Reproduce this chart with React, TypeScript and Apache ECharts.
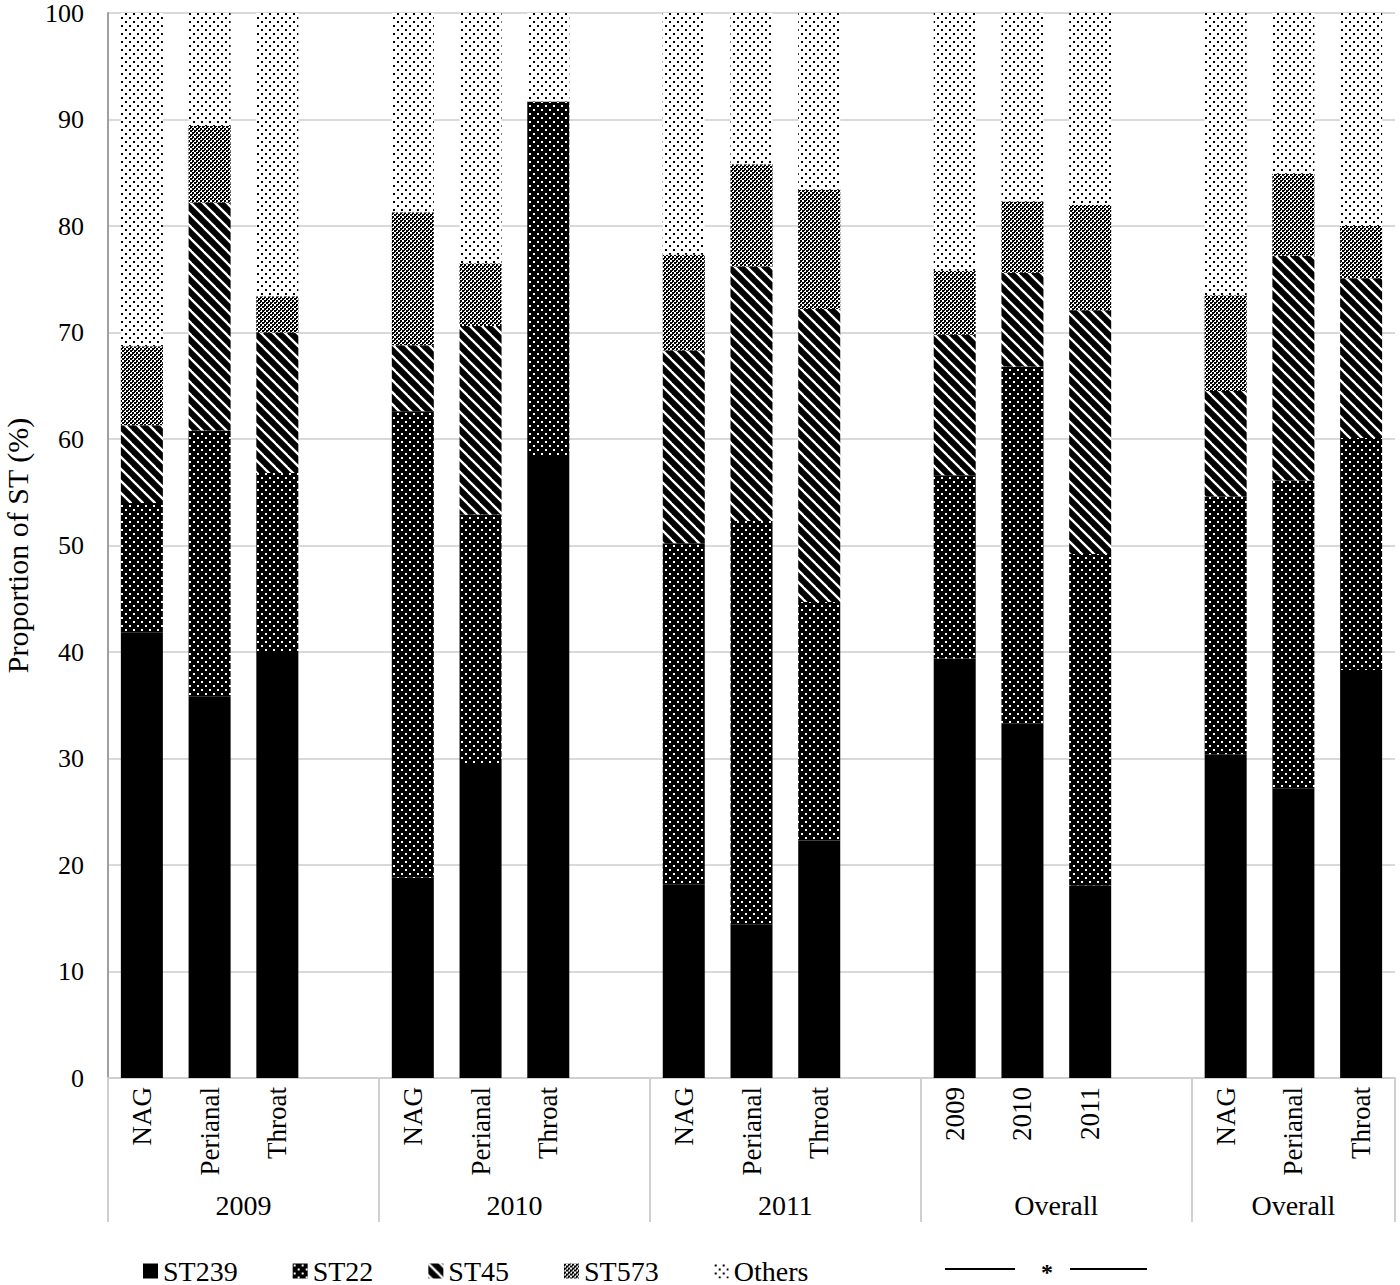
import React, { useEffect, useRef } from 'react';
import * as echarts from 'echarts';

const FONT = '"Liberation Serif", "Times New Roman", serif';

// x-axis slots (empty string = gap slot between groups)
const categories = ['NAG', 'Perianal', 'Throat', '', 'NAG', 'Perianal', 'Throat', '', 'NAG', 'Perianal', 'Throat', '', '2009', '2010', '2011', '', 'NAG', 'Perianal', 'Throat'];
const groups = ['2009', '2010', '2011', 'Overall', 'Overall'];
const groupSizes = [4, 4, 4, 4, 3];
const seriesNames = ['ST239', 'ST22', 'ST45', 'ST573', 'Others'];

const ST239 = [41.8, 35.8, 40.0, null, 18.8, 29.4, 58.4, null, 18.2, 14.4, 22.3, null, 39.4, 33.3, 18.1, null, 30.4, 27.2, 38.3];
const ST22 = [12.2, 25.0, 16.8, null, 43.8, 23.5, 33.3, null, 32.0, 37.9, 22.4, null, 17.2, 33.5, 31.1, null, 24.2, 28.9, 21.8];
const ST45 = [7.3, 21.4, 13.2, null, 6.2, 17.7, 0, null, 18.1, 23.9, 27.5, null, 13.2, 8.8, 22.9, null, 9.9, 21.1, 15.0];
const ST573 = [7.4, 7.2, 3.4, null, 12.5, 5.9, 0, null, 9.0, 9.6, 11.2, null, 6.0, 6.7, 9.9, null, 9.0, 7.7, 4.9];
const Others = [31.3, 10.6, 26.6, null, 18.7, 23.5, 8.3, null, 22.7, 14.2, 16.6, null, 24.2, 17.7, 18.0, null, 26.5, 15.1, 20.0];

function makeTile(size: number, draw: (ctx: CanvasRenderingContext2D, s: number) => void) {
  const c = document.createElement('canvas');
  c.width = size;
  c.height = size;
  const ctx = c.getContext('2d') as CanvasRenderingContext2D;
  draw(ctx, size);
  return { image: c.toDataURL(), repeat: 'repeat', imageWidth: size, imageHeight: size };
}

function buildPatterns() {
  const st22 = makeTile(8, (ctx, s) => {
    ctx.fillStyle = '#000';
    ctx.fillRect(0, 0, s, s);
    ctx.fillStyle = '#fff';
    ctx.fillRect(1, 1, 2, 2);
    ctx.fillRect(5, 5, 2, 2);
  });
  const st45 = makeTile(12, (ctx, s) => {
    ctx.fillStyle = '#000';
    ctx.fillRect(0, 0, s, s);
    ctx.strokeStyle = '#fff';
    ctx.lineWidth = 2.3;
    for (const c of [-s, 0, s]) {
      ctx.beginPath();
      ctx.moveTo(-2, -2 + c);
      ctx.lineTo(s + 2, s + 2 + c);
      ctx.stroke();
    }
  });
  const st573 = makeTile(8, (ctx, s) => {
    ctx.fillStyle = '#fff';
    ctx.fillRect(0, 0, s, s);
    ctx.fillStyle = '#000';
    for (let y = 0; y < s; y += 2) {
      for (let x = 0; x < s; x += 2) {
        if (((x >> 1) + (y >> 1)) % 2 === 0) ctx.fillRect(x, y, 2, 2);
        else if (!(x === 2 && y === 0) && !(x === 6 && y === 4)) ctx.fillRect(x, y, 1, 1);
      }
    }
  });
  const others = makeTile(8, (ctx, s) => {
    ctx.fillStyle = '#fff';
    ctx.fillRect(0, 0, s, s);
    ctx.fillStyle = '#000';
    ctx.fillRect(1, 1, 2, 2);
    ctx.fillRect(5, 5, 2, 2);
  });
  return ['#000000', st22, st45, st573, others];
}

export default function App() {
  const ref = useRef<HTMLDivElement>(null);

  useEffect(() => {
    document.body.style.margin = '0';
    if (!ref.current) return;
    const chart = echarts.init(ref.current, null, { renderer: 'svg' });
    const patterns = buildPatterns();
    const catIds = categories.map((c, i) => `${c}#${i}`);
    const starts: number[] = [];
    let acc = 0;
    groupSizes.forEach((n) => {
      starts.push(acc);
      acc += n;
    });
    const values = [ST239, ST22, ST45, ST573, Others];

    const option: any = {
      animation: false,
      grid: { left: 108, right: 5, top: 13, bottom: 207, containLabel: false, outerBoundsMode: 'none' },
      legend: {
        data: seriesNames,
        top: 1252,
        left: 138,
        itemGap: 55,
        itemWidth: 15,
        itemHeight: 15,
        icon: 'rect',
        textStyle: { fontFamily: FONT, fontSize: 28, color: '#000', lineHeight: 28 },
      },
      xAxis: {
        type: 'category',
        data: catIds,
        axisLine: { show: true, lineStyle: { color: '#d0d0d0', width: 2 } },
        axisTick: {
          show: true,
          interval: (i: number) => starts.includes(i),
          length: 144,
          lineStyle: { color: '#d0d0d0', width: 2 },
        },
        axisLabel: {
          interval: 0,
          rotate: 90,
          formatter: (_v: string, i: number) => categories[i],
          fontFamily: FONT,
          fontSize: 27,
          color: '#000',
          margin: 9,
        },
      },
      yAxis: {
        type: 'value',
        min: 0,
        max: 100,
        interval: 10,
        name: 'Proportion of ST (%)',
        nameLocation: 'middle',
        nameGap: 76,
        nameTextStyle: { fontFamily: FONT, fontSize: 30, color: '#000' },
        axisLine: { show: true, lineStyle: { color: '#a0a0a0', width: 2 } },
        axisTick: { show: false },
        axisLabel: { fontFamily: FONT, fontSize: 26, color: '#000', margin: 24 },
        splitLine: { show: true, lineStyle: { color: '#d9d9d9', width: 2 } },
      },
      series: seriesNames.map((name, k) => ({
        name,
        type: 'bar',
        stack: 'total',
        barWidth: 42,
        data: values[k],
        itemStyle: { color: patterns[k] },
        emphasis: { disabled: true },
      })),
    };
    chart.setOption(option);

    const px = (i: number) => chart.convertToPixel({ xAxisIndex: 0 }, catIds[i]) as number;
    const band = px(1) - px(0);
    const graphics: any[] = [];
    groups.forEach((g, gi) => {
      const s = starts[gi];
      const n = groupSizes[gi];
      const left = px(s) - band / 2;
      const right = px(s + n - 1) + band / 2;
      graphics.push({
        type: 'text',
        style: {
          text: g,
          x: (left + right) / 2,
          y: 1205,
          fill: '#000',
          font: `28px ${FONT}`,
          align: 'center',
          verticalAlign: 'middle',
        },
      });
    });
    graphics.push(
      { type: 'line', shape: { x1: 945, y1: 1269, x2: 1015, y2: 1269 }, style: { stroke: '#000', lineWidth: 2 } },
      { type: 'line', shape: { x1: 1070, y1: 1269, x2: 1147, y2: 1269 }, style: { stroke: '#000', lineWidth: 2 } },
      {
        type: 'text',
        style: {
          text: '*',
          x: 1047,
          y: 1272,
          fill: '#000',
          font: `bold 24px ${FONT}`,
          align: 'center',
          verticalAlign: 'middle',
        },
      }
    );
    chart.setOption({ graphic: graphics });

    return () => chart.dispose();
  }, []);

  return <div ref={ref} style={{ width: 1400, height: 1285 }} />;
}
